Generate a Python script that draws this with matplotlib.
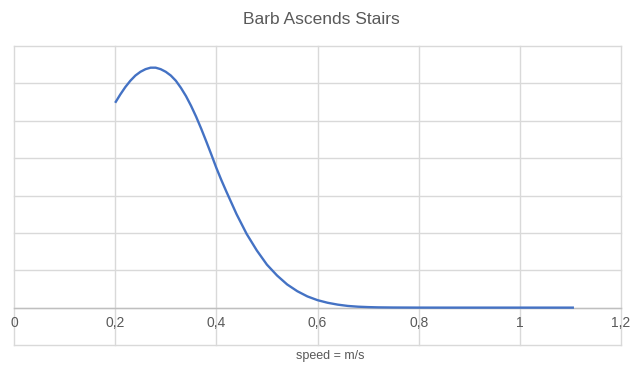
import numpy as np
import matplotlib.pyplot as plt

# values
speed = [0.20, 0.21, 0.22, 0.23, 0.24, 0.25, 0.26, 0.27, 0.28, 0.29, 0.30, 0.31,
         0.32, 0.33, 0.34, 0.35, 0.36, 0.37, 0.38, 0.39, 0.40, 0.41, 0.42, 0.44,
         0.46, 0.48, 0.50, 0.52, 0.54, 0.56, 0.58, 0.60, 0.62, 0.64, 0.66, 0.68,
         0.70, 0.72, 0.75, 0.80, 0.85, 0.90, 0.95, 1.00, 1.05, 1.107]
density = [5.48, 5.70, 5.90, 6.07, 6.21, 6.31, 6.38, 6.42, 6.42, 6.38, 6.31, 6.21,
           6.07, 5.88, 5.66, 5.40, 5.11, 4.79, 4.45, 4.10, 3.74, 3.41, 3.10, 2.50,
           1.97, 1.53, 1.15, 0.86, 0.62, 0.44, 0.30, 0.20, 0.13, 0.08, 0.045, 0.025,
           0.014, 0.007, 0.003, 0.0005, 0.0, 0.0, 0.0, 0.0, 0.0, 0.0]

x_ticks = [0, 0.2, 0.4, 0.6, 0.8, 1.0, 1.2]
x_labels = ['0', '0,2', '0,4', '0,6', '0,8', '1', '1,2']

plt.rcParams['font.family'] = ['Liberation Sans', 'DejaVu Sans']

W, H = 643, 378
fig = plt.figure(figsize=(W / 100, H / 100), dpi=100)
ax = fig.add_axes([14 / W, (H - 345) / H, (621 - 14) / W, (345 - 46) / H])

ax.plot(speed, density, color='#4472C4', linewidth=1.7, solid_capstyle='butt',
        solid_joinstyle='round', zorder=3)

ax.set_xlim(0, 1.2)
ax.set_ylim(-1, 7)
ax.set_xticks(x_ticks)
ax.set_xticklabels(x_labels, fontsize=9)
ax.set_yticks(np.arange(-1, 8, 1))
ax.set_yticklabels([])
ax.tick_params(length=0)
ax.tick_params(axis='x', pad=6, labelcolor='#595959')

for s in ['left', 'right', 'top']:
    ax.spines[s].set_visible(False)
ax.spines['bottom'].set_position(('data', 0))
ax.spines['bottom'].set_color('#bfbfbf')
ax.spines['bottom'].set_linewidth(1.0)
ax.spines['bottom'].set_zorder(2)

ax.grid(True, color='#d9d9d9', linewidth=1.0, zorder=0)
for gl in ax.get_xgridlines() + ax.get_ygridlines():
    gl.set_clip_on(False)

fig.text(330 / W, 1 - 356 / H, 'speed = m/s', ha='center', va='center',
         fontsize=9, color='#595959')
fig.text(321 / W, 1 - 20 / H, 'Barb Ascends Stairs', ha='center', va='center',
         fontsize=12.5, color='#595959')

fig.savefig('out.png', dpi=100)
